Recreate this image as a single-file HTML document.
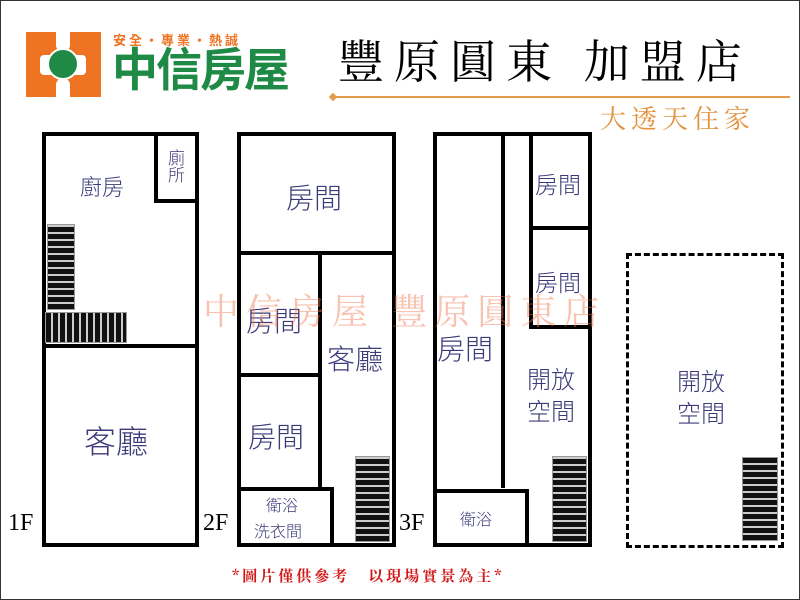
<!DOCTYPE html>
<html><head><meta charset="utf-8"><style>
body{margin:0;width:800px;height:600px;overflow:hidden;background:#fff;font-family:"Liberation Serif","Noto Serif CJK SC","Noto Sans CJK TC",serif}
.a{position:absolute}
.w{position:absolute;background:#000}
.t{position:absolute;color:#3c3a78;font-family:"Noto Sans CJK TC",sans-serif;font-weight:300;white-space:nowrap;line-height:1}
.st{position:absolute;background:#111;border:1px solid #999;box-sizing:border-box;
background-image:repeating-linear-gradient(0deg,#111 0 5px,#ccc 5px 7px);}
.sth{background-image:repeating-linear-gradient(90deg,#111 0 5px,#ccc 5px 7px);}
</style></head><body>
<div class="a" style="left:0;top:0;width:798px;height:598px;border:1px solid #333"></div>
<!-- logo -->
<div class="a" style="left:26px;top:32px;width:75px;height:65px;background:#ee7322"></div>
<div class="a" style="left:56px;top:32px;width:14px;height:20px;background:#fff;border-radius:0 0 7px 7px"></div>
<div class="a" style="left:56px;top:78px;width:14px;height:19px;background:#fff;border-radius:7px 7px 0 0"></div>
<div class="a" style="left:40px;top:55px;width:46px;height:20px;background:#fff;border-radius:4px"></div>
<div class="a" style="left:47px;top:48px;width:32px;height:32px;background:#1e8a45;border-radius:50%;border:2px solid #fff;box-sizing:border-box"></div>
<div class="a" style="left:113px;top:30px;color:#ee7322;font:bold 13px 'Noto Sans CJK TC',sans-serif;letter-spacing:3px">安全・專業・熱誠</div>
<div class="a" style="left:112px;top:44px;color:#1e8a45;font:bold 46px/1 'Noto Sans CJK TC',sans-serif;letter-spacing:-2px">中信房屋</div>
<div class="a" style="left:338px;top:36px;font:46px/1 'Noto Serif CJK SC',serif;color:#000;letter-spacing:10px">豐原圓東 加盟店</div>
<div class="a" style="left:335px;top:96px;width:455px;height:2px;background:#e39a4a"></div>
<div class="a" style="left:330px;top:94px;width:6px;height:6px;background:#e39a4a;transform:rotate(45deg)"></div>
<div class="a" style="left:600px;top:105px;font:26px/1 'Noto Serif CJK SC',serif;color:#e3923c;letter-spacing:5px">大透天住家</div>
<!-- 1F -->
<div class="a" style="left:42px;top:132px;width:157px;height:415px;border:4px solid #000;box-sizing:border-box"></div>
<div class="w" style="left:42px;top:344px;width:157px;height:4px"></div>
<div class="a" style="left:154px;top:132px;width:45px;height:71px;border:4px solid #000;box-sizing:border-box"></div>
<div class="st" style="left:47px;top:224px;width:28px;height:86px"></div>
<div class="st sth" style="left:45px;top:312px;width:82px;height:31px"></div>
<div class="t" style="left:80px;top:175px;font-size:22px">廚房</div>
<div class="t" style="left:168px;top:148px;font-size:17px;width:18px;white-space:normal">廁所</div>
<div class="t" style="left:84px;top:424px;font-size:32px">客廳</div>
<div class="a" style="left:8px;top:510px;font-size:24px">1F</div>
<!-- 2F -->
<div class="a" style="left:237px;top:132px;width:159px;height:415px;border:4px solid #000;box-sizing:border-box"></div>
<div class="w" style="left:237px;top:251px;width:159px;height:4px"></div>
<div class="w" style="left:318px;top:251px;width:4px;height:238px"></div>
<div class="w" style="left:237px;top:373px;width:83px;height:4px"></div>
<div class="a" style="left:237px;top:487px;width:97px;height:60px;border:4px solid #000;box-sizing:border-box"></div>
<div class="st" style="left:355px;top:456px;width:35px;height:86px"></div>
<div class="t" style="left:286px;top:183px;font-size:28px">房間</div>
<div class="t" style="left:246px;top:306px;font-size:28px">房間</div>
<div class="t" style="left:248px;top:422px;font-size:28px">房間</div>
<div class="t" style="left:327px;top:344px;font-size:28px">客廳</div>
<div class="t" style="left:266px;top:496px;font-size:16px">衛浴</div>
<div class="t" style="left:254px;top:522px;font-size:16px">洗衣間</div>
<div class="a" style="left:203px;top:510px;font-size:24px">2F</div>
<!-- 3F -->
<div class="a" style="left:433px;top:132px;width:159px;height:415px;border:4px solid #000;box-sizing:border-box"></div>
<div class="w" style="left:501px;top:132px;width:4px;height:356px"></div>
<div class="a" style="left:529px;top:132px;width:63px;height:98px;border:4px solid #000;box-sizing:border-box"></div>
<div class="a" style="left:529px;top:226px;width:63px;height:103px;border:4px solid #000;box-sizing:border-box"></div>
<div class="a" style="left:433px;top:489px;width:96px;height:58px;border:4px solid #000;box-sizing:border-box"></div>
<div class="st" style="left:552px;top:456px;width:35px;height:86px"></div>
<div class="t" style="left:535px;top:172px;font-size:23px">房間</div>
<div class="t" style="left:535px;top:270px;font-size:23px">房間</div>
<div class="t" style="left:437px;top:334px;font-size:28px">房間</div>
<div class="t" style="left:527px;top:366px;font-size:24px">開放</div>
<div class="t" style="left:527px;top:398px;font-size:24px">空間</div>
<div class="t" style="left:460px;top:510px;font-size:16px">衛浴</div>
<div class="a" style="left:399px;top:510px;font-size:24px">3F</div>
<!-- roof -->
<div class="a" style="left:626px;top:253px;width:158px;height:295px;border:3px dashed #000;box-sizing:border-box"></div>
<div class="st" style="left:742px;top:457px;width:36px;height:84px"></div>
<div class="t" style="left:677px;top:368px;font-size:24px">開放</div>
<div class="t" style="left:677px;top:400px;font-size:24px">空間</div>
<!-- watermark -->
<div class="a" style="left:203px;top:292px;font:36px/1 'Noto Serif CJK SC',serif;color:rgba(240,120,80,.45);letter-spacing:7px">中信房屋 豐原圓東店</div>
<div class="a" style="left:232px;top:568px;font:bold 15px/1 'Noto Serif CJK SC',serif;color:#d01818;letter-spacing:3px">*圖片僅供參考　以現場實景為主*</div>
</body></html>
